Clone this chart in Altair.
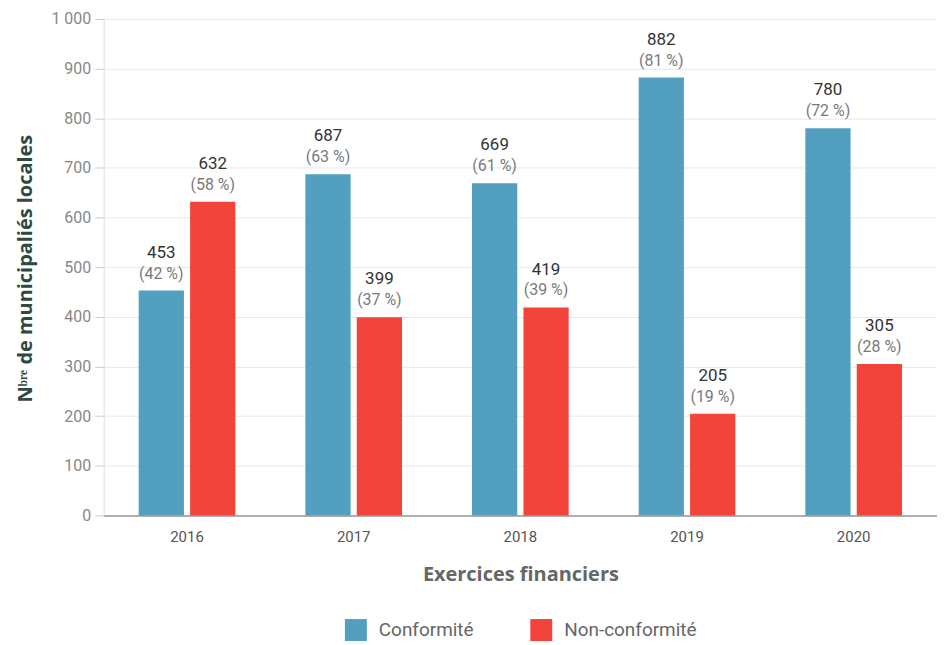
import altair as alt
import pandas as pd

years = ["2016", "2017", "2018", "2019", "2020"]
conformite = [453, 687, 669, 882, 780]
non_conformite = [632, 399, 419, 205, 305]
pct_conformite = [42, 63, 61, 81, 72]
pct_non_conformite = [58, 37, 39, 19, 28]
series = ["Conformité", "Non-conformité"]
colors = ["#529fc0", "#f2443b"]

rows = []
for i, y in enumerate(years):
    rows.append({"annee": y, "serie": series[0], "n": conformite[i], "pct": f"({pct_conformite[i]} %)"})
    rows.append({"annee": y, "serie": series[1], "n": non_conformite[i], "pct": f"({pct_non_conformite[i]} %)"})
df = pd.DataFrame(rows)

x = alt.X("annee:N", title="Exercices financiers",
          scale=alt.Scale(paddingInner=0.42, paddingOuter=0.21),
          axis=alt.Axis(labelAngle=0, ticks=False, labelPadding=14, labelFontSize=15,
                        labelColor="#555", labelFont="Roboto",
                        domainColor="#9a9a9a", domainWidth=1.5,
                        titleFont="Open Sans", titleFontSize=20, titleFontWeight="bold",
                        titleColor="#666", titlePadding=20))
xo = alt.XOffset("serie:N", sort=series, scale=alt.Scale(paddingInner=0.12))
y = alt.Y("n:Q", title="Nᵇʳᵉ de municipaliés locales",
          scale=alt.Scale(domain=[0, 1000]),
          axis=alt.Axis(values=list(range(0, 1001, 100)),
                        labelExpr="replace(format(datum.value, ','), ',', ' ')",
                        labelFontSize=16, labelColor="#888", labelFont="Roboto",
                        tickColor="#cccccc", tickSize=9, labelPadding=4, domain=False,
                        gridColor="#e8e8e8",
                        titleFont="Open Sans", titleFontSize=20, titleFontWeight="bold",
                        titleColor="#2e4a40", titleX=-78, titleY=250,
                        titleAngle=-90, titleAlign="center", titleBaseline="middle"))

color = alt.Color("serie:N", sort=series, title=None,
                  scale=alt.Scale(domain=series, range=colors),
                  legend=alt.Legend(orient="none", legendX=242, legendY=602,
                                    direction="horizontal", symbolType="square",
                                    symbolSize=484, symbolStrokeWidth=0, symbolOpacity=1,
                                    labelFontSize=19, labelColor="#666", labelFont="Roboto",
                                    labelOffset=12, columnPadding=56))

base = alt.Chart(df).encode(x=x, xOffset=xo)

bars = base.mark_bar(opacity=1).encode(y=y, color=color)
val = base.mark_text(baseline="bottom", dy=-29, fontSize=17, color="#333333",
                     font="Roboto").encode(y="n:Q", text="n:Q")
pct = base.mark_text(baseline="bottom", dy=-9, fontSize=16, color="#7a7a7a",
                     font="Roboto").encode(y="n:Q", text="pct:N")

chart = alt.layer(bars, val, pct).properties(
    width=836, height=498,
    autosize=alt.AutoSizeParams(type="none"),
    padding={"left": 96, "top": 10, "right": 0, "bottom": 129},
).configure_view(stroke=None).configure(background="white")

chart.save("out.html", embed_options={"renderer": "svg", "actions": False})
